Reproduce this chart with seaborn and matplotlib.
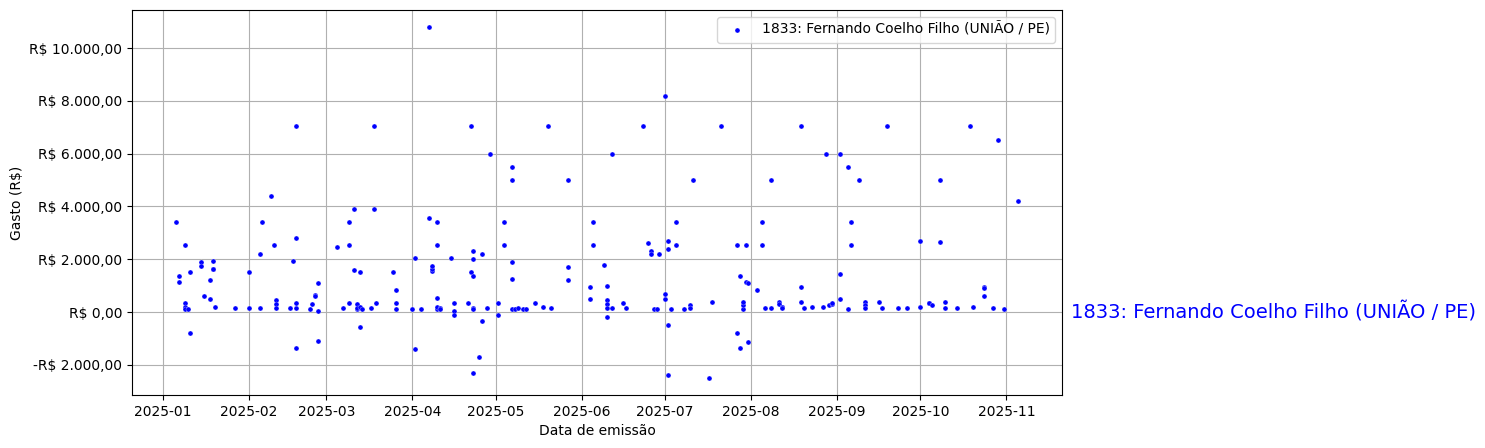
import matplotlib
matplotlib.use('Agg')
import matplotlib.pyplot as plt
import matplotlib.ticker as mticker
import seaborn as sns
import pandas as pd

label = '1833: Fernando Coelho Filho (UNIÃO / PE)'

# (data, valor)
pontos = [
    ('2025-01-06', 3400), ('2025-01-07', 1350), ('2025-01-07', 1150), ('2025-01-09', 2550),
    ('2025-01-09', 350), ('2025-01-09', 200), ('2025-01-09', 100), ('2025-01-10', 100),
    ('2025-01-11', 1500), ('2025-01-11', -800), ('2025-01-15', 1900), ('2025-01-15', 1750),
    ('2025-01-16', 600), ('2025-01-18', 500), ('2025-01-18', 1200), ('2025-01-19', 1650),
    ('2025-01-19', 1650), ('2025-01-19', 1950), ('2025-01-20', 200), ('2025-01-27', 150),
    ('2025-02-01', 1500), ('2025-02-01', 150),
    ('2025-02-05', 2200), ('2025-02-05', 150), ('2025-02-06', 3400), ('2025-02-09', 4400),
    ('2025-02-10', 2550), ('2025-02-11', 450), ('2025-02-11', 300), ('2025-02-11', 150),
    ('2025-02-16', 150), ('2025-02-17', 1950), ('2025-02-18', 150), ('2025-02-18', 350),
    ('2025-02-18', 2800), ('2025-02-18', 7050), ('2025-02-18', -1350), ('2025-02-23', 100),
    ('2025-02-24', 300), ('2025-02-25', 650), ('2025-02-25', 600), ('2025-02-26', 1100),
    ('2025-02-26', -1100), ('2025-02-26', 50),
    ('2025-03-05', 2450), ('2025-03-07', 150), ('2025-03-09', 2550), ('2025-03-09', 3400),
    ('2025-03-09', 350), ('2025-03-11', 3900), ('2025-03-11', 1600), ('2025-03-12', 300),
    ('2025-03-12', 100), ('2025-03-12', 150), ('2025-03-13', 1500), ('2025-03-13', -550),
    ('2025-03-13', 200), ('2025-03-14', 100), ('2025-03-17', 150), ('2025-03-18', 3900),
    ('2025-03-18', 7050), ('2025-03-19', 350), ('2025-03-25', 1500), ('2025-03-26', 850),
    ('2025-03-26', 350), ('2025-03-26', 100),
    ('2025-04-01', 100), ('2025-04-02', -1400), ('2025-04-02', 2050), ('2025-04-04', 100),
    ('2025-04-07', 3550), ('2025-04-07', 10800), ('2025-04-08', 1550), ('2025-04-08', 1650),
    ('2025-04-08', 1750), ('2025-04-10', 100), ('2025-04-10', 200), ('2025-04-10', 2550),
    ('2025-04-10', 3400), ('2025-04-10', 550), ('2025-04-11', 150), ('2025-04-11', 100),
    ('2025-04-15', 2050), ('2025-04-16', 350), ('2025-04-16', 50), ('2025-04-16', -100),
    ('2025-04-21', 350), ('2025-04-22', 1500), ('2025-04-22', 7050), ('2025-04-23', 1350),
    ('2025-04-23', 2300), ('2025-04-23', -2300), ('2025-04-23', 2000), ('2025-04-23', 150),
    ('2025-04-23', 100), ('2025-04-25', -1700), ('2025-04-26', -350), ('2025-04-26', 2200),
    ('2025-04-28', 150), ('2025-04-29', 6000),
    ('2025-05-02', -100), ('2025-05-02', 350), ('2025-05-04', 3400), ('2025-05-04', 2550),
    ('2025-05-07', 1900), ('2025-05-07', 5000), ('2025-05-07', 5500), ('2025-05-07', 1250),
    ('2025-05-07', 100), ('2025-05-08', 100), ('2025-05-09', 150), ('2025-05-11', 100),
    ('2025-05-12', 100), ('2025-05-15', 350), ('2025-05-18', 200), ('2025-05-20', 7050),
    ('2025-05-21', 150), ('2025-05-27', 5000), ('2025-05-27', 1700), ('2025-05-27', 1200),
    ('2025-06-04', 500), ('2025-06-04', 950), ('2025-06-05', 3400), ('2025-06-05', 2550),
    ('2025-06-09', 1800), ('2025-06-10', 1000), ('2025-06-10', 450), ('2025-06-10', 300),
    ('2025-06-10', 150), ('2025-06-10', -200), ('2025-06-12', 150), ('2025-06-12', 6000),
    ('2025-06-16', 350), ('2025-06-17', 150), ('2025-06-23', 7050), ('2025-06-25', 2600),
    ('2025-06-26', 2300), ('2025-06-26', 2200), ('2025-06-27', 100), ('2025-06-28', 100),
    ('2025-06-29', 2200), ('2025-07-01', 8200),
    ('2025-07-01', 500), ('2025-07-01', 700), ('2025-07-02', 2700), ('2025-07-02', 2400),
    ('2025-07-02', -500), ('2025-07-02', -2400), ('2025-07-03', 100), ('2025-07-05', 2550),
    ('2025-07-05', 3400), ('2025-07-08', 100), ('2025-07-10', 250), ('2025-07-10', 150),
    ('2025-07-11', 5000), ('2025-07-17', -2500), ('2025-07-18', 400), ('2025-07-21', 7050),
    ('2025-07-27', 2550), ('2025-07-27', -800), ('2025-07-28', 1350), ('2025-07-28', -1350),
    ('2025-07-29', 100), ('2025-07-29', 250), ('2025-07-29', 400), ('2025-07-30', 2550),
    ('2025-07-30', 1150), ('2025-07-31', 1100), ('2025-07-31', -1150),
    ('2025-08-03', 850), ('2025-08-05', 3400), ('2025-08-05', 2550), ('2025-08-06', 150),
    ('2025-08-08', 150), ('2025-08-08', 5000), ('2025-08-11', 400), ('2025-08-11', 300),
    ('2025-08-12', 200), ('2025-08-12', 200), ('2025-08-12', 150), ('2025-08-19', 7050),
    ('2025-08-19', 950), ('2025-08-19', 400), ('2025-08-20', 150), ('2025-08-23', 200),
    ('2025-08-27', 200), ('2025-08-28', 6000), ('2025-08-29', 250), ('2025-08-30', 300),
    ('2025-08-30', 350),
    ('2025-09-02', 6000), ('2025-09-02', 1450), ('2025-09-02', 500), ('2025-09-05', 100),
    ('2025-09-05', 5500), ('2025-09-06', 3400), ('2025-09-06', 2550), ('2025-09-09', 5000),
    ('2025-09-11', 400), ('2025-09-11', 250), ('2025-09-11', 150), ('2025-09-16', 400),
    ('2025-09-17', 150), ('2025-09-19', 7050), ('2025-09-23', 150), ('2025-09-26', 150),
    ('2025-10-01', 200), ('2025-10-01', 2700), ('2025-10-04', 350), ('2025-10-04', 350),
    ('2025-10-05', 250), ('2025-10-08', 2650), ('2025-10-08', 5000), ('2025-10-10', 400),
    ('2025-10-10', 150), ('2025-10-14', 150), ('2025-10-19', 7050), ('2025-10-20', 200),
    ('2025-10-24', 950), ('2025-10-24', 900), ('2025-10-24', 600), ('2025-10-27', 150),
    ('2025-10-29', 6500), ('2025-10-31', 100),
    ('2025-11-05', 4200),
]

datas = [p[0] for p in pontos]
valores = [p[1] for p in pontos]
df = pd.DataFrame({'data': pd.to_datetime(datas), 'valor': valores})

def brl(v, pos=None):
    s = f'{abs(v):,.2f}'.replace(',', 'X').replace('.', ',').replace('X', '.')
    return ('-R$ ' if v < 0 else 'R$ ') + s

fig = plt.figure(figsize=(14.85, 4.48), dpi=100)
ax = fig.add_axes([132/1485, 53/448, 930/1485, 385/448])
sns.scatterplot(data=df, x='data', y='valor', ax=ax, color='blue', s=13,
                edgecolor='white', linewidth=0.2, label=label, zorder=3)
ax.set_xlim(pd.Timestamp('2024-12-21'), pd.Timestamp('2025-11-21'))
ax.set_ylim(-3140, 11440)
ax.yaxis.set_major_formatter(mticker.FuncFormatter(brl))
ax.grid(True, color='#b0b0b0', linewidth=0.8)
ax.set_axisbelow(True)
ax.set_xlabel('Data de emissão')
ax.set_ylabel('Gasto (R$)')
ax.legend(loc='upper right')
ax.text(1.01, 0, label, transform=ax.get_yaxis_transform(), color='blue',
        fontsize=14, va='center', ha='left')
fig.savefig('out.png', dpi=100)
